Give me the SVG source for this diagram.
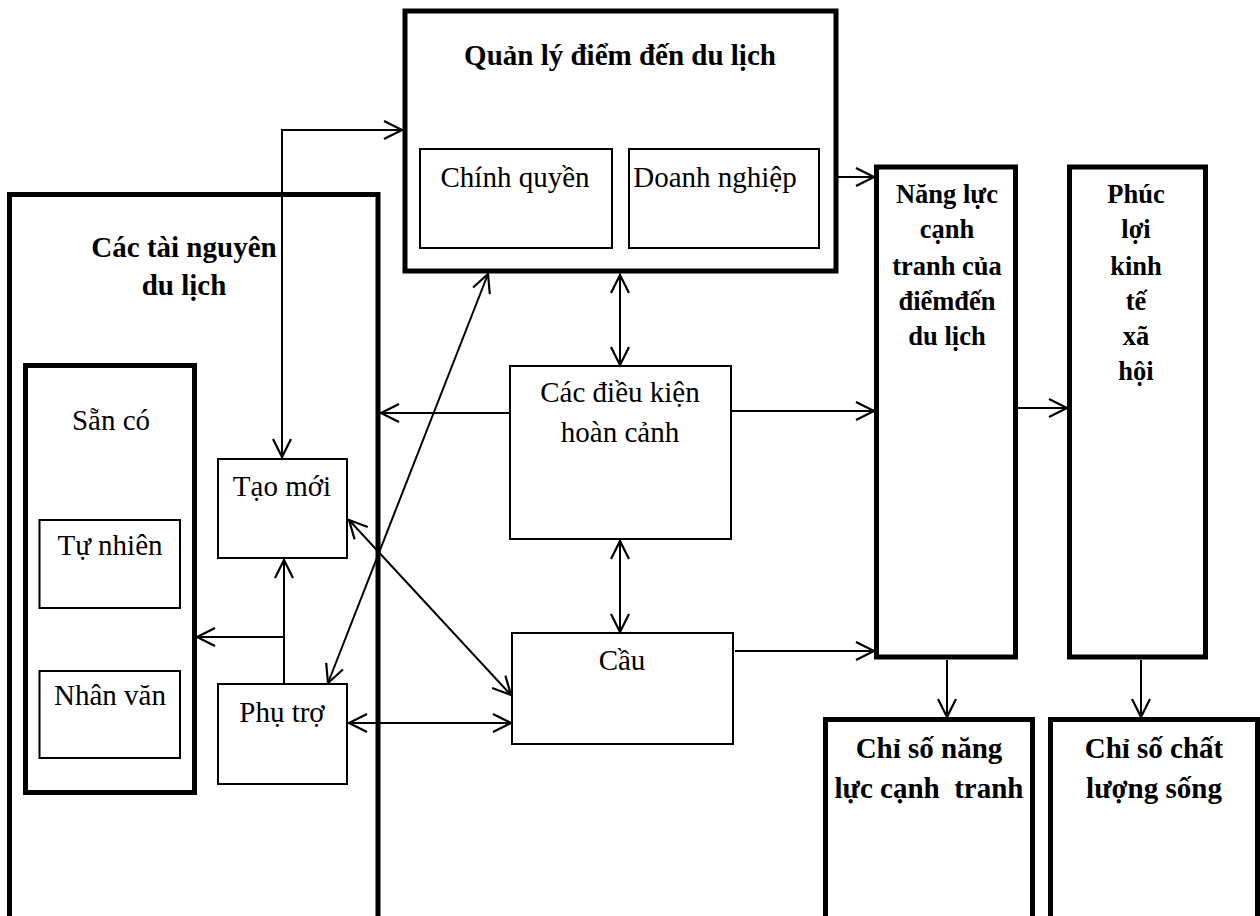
<svg xmlns="http://www.w3.org/2000/svg" width="1260" height="916" viewBox="0 0 1260 916">
<style>
.thick{fill:none;stroke:#000;stroke-width:5}
.thin{fill:none;stroke:#000;stroke-width:2}
text{font-family:"Liberation Serif","DejaVu Serif","Times New Roman",serif;fill:#000;text-anchor:middle}
.r{font-size:29px}
.b{font-size:29px;font-weight:bold}
.bs{font-size:26.5px;font-weight:bold}
.c{fill:none;stroke:#000;stroke-width:2}
</style>
<defs>
<marker id="ah" markerUnits="userSpaceOnUse" markerWidth="24" markerHeight="24" viewBox="-20 -12 22 24" refX="0" refY="0" orient="auto-start-reverse">
<path d="M-18,-9 L0,0 L-18,9" fill="none" stroke="#000" stroke-width="2.2"/>
</marker>
</defs>
<rect width="1260" height="916" fill="#fff"/>

<g id="tai-nguyen">
<rect class="thick" x="9.5" y="194.5" width="368.5" height="760"/>
<text class="b" x="184" y="257" font-family="Liberation Serif, serif">Các tài nguyên</text>
<text class="b" x="184" y="295" font-family="Liberation Serif, serif">du lịch</text>
</g>
<g id="san-co">
<rect class="thick" x="25.5" y="365.5" width="169" height="427"/>
<text class="r" x="111" y="430">Sẵn có</text>
</g>
<g id="tu-nhien">
<rect class="thin" x="39.5" y="520" width="140.5" height="88"/>
<text class="r" x="110" y="555">Tự nhiên</text>
</g>
<g id="nhan-van">
<rect class="thin" x="39.5" y="671" width="140.5" height="87"/>
<text class="r" x="110" y="705">Nhân văn</text>
</g>
<g id="tao-moi">
<rect class="thin" x="218" y="459" width="129" height="99"/>
<text class="r" x="282" y="496">Tạo mới</text>
</g>
<g id="phu-tro">
<rect class="thin" x="218" y="684" width="129" height="100"/>
<text class="r" x="282" y="722">Phụ trợ</text>
</g>
<g id="quan-ly">
<rect class="thick" x="405" y="11" width="431" height="260"/>
<text class="b" x="620" y="65">Quản lý điểm đến du lịch</text>
</g>
<g id="chinh-quyen">
<rect class="thin" x="420" y="149" width="192" height="99"/>
<text class="r" x="515" y="187">Chính quyền</text>
</g>
<g id="doanh-nghiep">
<rect class="thin" x="629" y="149" width="190" height="99"/>
<text class="r" x="715" y="187">Doanh nghiệp</text>
</g>
<g id="dieu-kien">
<rect class="thin" x="510" y="366" width="221" height="173"/>
<text class="r" x="620" y="402">Các điều kiện</text>
<text class="r" x="620" y="442">hoàn cảnh</text>
</g>
<g id="cau">
<rect class="thin" x="512" y="633" width="221" height="111"/>
<text class="r" x="622" y="670">Cầu</text>
</g>
<g id="nang-luc">
<rect class="thick" x="876.5" y="167" width="139" height="490"/>
<text class="bs" x="947" y="203">Năng lực</text>
<text class="bs" x="947" y="238">cạnh</text>
<text class="bs" x="947" y="275">tranh của</text>
<text class="bs" x="947" y="310">điểmđến</text>
<text class="bs" x="947" y="345">du lịch</text>
</g>
<g id="phuc-loi">
<rect class="thick" x="1069.5" y="167" width="136" height="490"/>
<text class="bs" x="1136" y="203">Phúc</text>
<text class="bs" x="1136" y="238">lợi</text>
<text class="bs" x="1136" y="275">kinh</text>
<text class="bs" x="1136" y="310">tế</text>
<text class="bs" x="1136" y="345">xã</text>
<text class="bs" x="1136" y="380">hội</text>
</g>
<g id="chi-so-nang-luc">
<rect class="thick" x="825.5" y="719.5" width="207" height="260"/>
<text class="b" x="929" y="758">Chỉ số năng</text>
<text class="b" x="929" y="798" xml:space="preserve">lực cạnh  tranh</text>
</g>
<g id="chi-so-chat-luong">
<rect class="thick" x="1050.5" y="719.5" width="207" height="260"/>
<text class="b" x="1154" y="758">Chỉ số chất</text>
<text class="b" x="1154" y="798">lượng sống</text>
</g>

<g id="connectors">
<path class="c" d="M402,130 H282 V457" marker-start="url(#ah)" marker-end="url(#ah)"/>
<path class="c" d="M836,177 H874" marker-end="url(#ah)"/>
<path class="c" d="M620,275 V365" marker-start="url(#ah)" marker-end="url(#ah)"/>
<path class="c" d="M510,413 H381" marker-end="url(#ah)"/>
<path class="c" d="M731,411 H874" marker-end="url(#ah)"/>
<path class="c" d="M620,541 V632" marker-start="url(#ah)" marker-end="url(#ah)"/>
<path class="c" d="M735,651 H874" marker-end="url(#ah)"/>
<path class="c" d="M1018,408 H1067" marker-end="url(#ah)"/>
<path class="c" d="M947,660 V717" marker-end="url(#ah)"/>
<path class="c" d="M1141,660 V717" marker-end="url(#ah)"/>
<path class="c" d="M284,684 V560" marker-end="url(#ah)"/>
<path class="c" d="M284,637 H197" marker-end="url(#ah)"/>
<path class="c" d="M349,723 H511" marker-start="url(#ah)" marker-end="url(#ah)"/>
<path class="c" d="M349,520 L511,695" marker-start="url(#ah)" marker-end="url(#ah)"/>
<path class="c" d="M328,683 L488,274" marker-start="url(#ah)" marker-end="url(#ah)"/>
</g>
</svg>
